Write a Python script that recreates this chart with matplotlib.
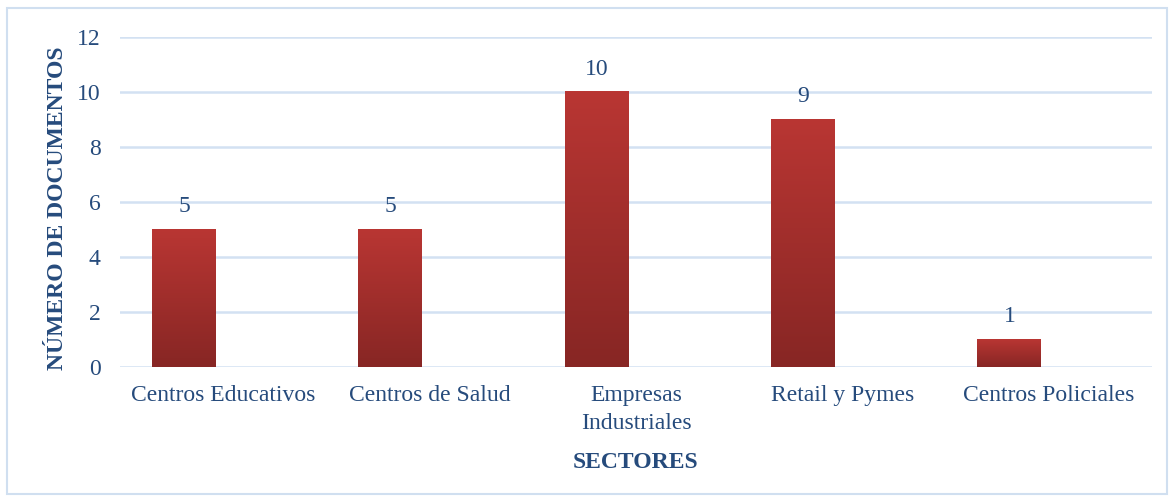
import matplotlib

matplotlib.use("Agg")
import matplotlib.pyplot as plt
import numpy as np
from matplotlib.colors import LinearSegmentedColormap
from matplotlib.patches import Rectangle

sectores = ["Centros Educativos", "Centros de Salud", "Empresas\nIndustriales",
            "Retail y Pymes", "Centros Policiales"]
documentos = [5, 5, 10, 9, 1]
y_ticks = [0, 2, 4, 6, 8, 10, 12]

text_color = "#264b7c"
grid_color = "#d3e1f2"
plt.rcParams["font.family"] = ["Liberation Serif", "DejaVu Serif"]

fig = plt.figure(figsize=(11.73, 4.97), dpi=100)
ax = fig.add_axes([0.1023, 0.2616, 0.8797, 0.664])

# bars are sitting left of the category centre, like a cluster with an empty second series
x = np.arange(len(sectores))
offset, width = -0.19, 0.31
grad = LinearSegmentedColormap.from_list("bar", ["#872624", "#b93633"])
ramp = np.linspace(0, 1, 256).reshape(-1, 1)
for xi, val in zip(x, documentos):
    left = xi + offset - width / 2
    ax.imshow(ramp, cmap=grad, aspect="auto", origin="lower",
              extent=(left, left + width, 0, val), zorder=3)
    ax.text(xi + offset, val + 0.45, str(val), ha="center", va="bottom",
            fontsize=17, color=text_color, zorder=4)

ax.set_xlim(-0.5, len(sectores) - 0.5)
ax.set_ylim(0, 12)
ax.set_yticks(y_ticks)
ax.set_xticks(x)
ax.set_xticklabels(sectores, linespacing=1.45)
ax.tick_params(axis="both", length=0, labelsize=17, colors=text_color)
ax.tick_params(axis="x", pad=13)
ax.tick_params(axis="y", pad=14)
ax.grid(axis="y", color=grid_color, lw=1.8, zorder=0)
ax.set_axisbelow(True)
for s in ax.spines.values():
    s.set_visible(False)

ax.set_xlabel("SECTORES", fontsize=17, fontweight="bold", color=text_color, labelpad=13)
fig.text(0.049, 0.58, "NÚMERO DE DOCUMENTOS", rotation=90, ha="center", va="center",
         fontsize=17, fontweight="bold", color=text_color)

fig.patches.append(Rectangle((7 / 1173, 3 / 497), 1160 / 1173, 486 / 497, transform=fig.transFigure,
                             fill=False, edgecolor="#d0dff0", lw=1.5))

fig.savefig("out.png", dpi=100)
